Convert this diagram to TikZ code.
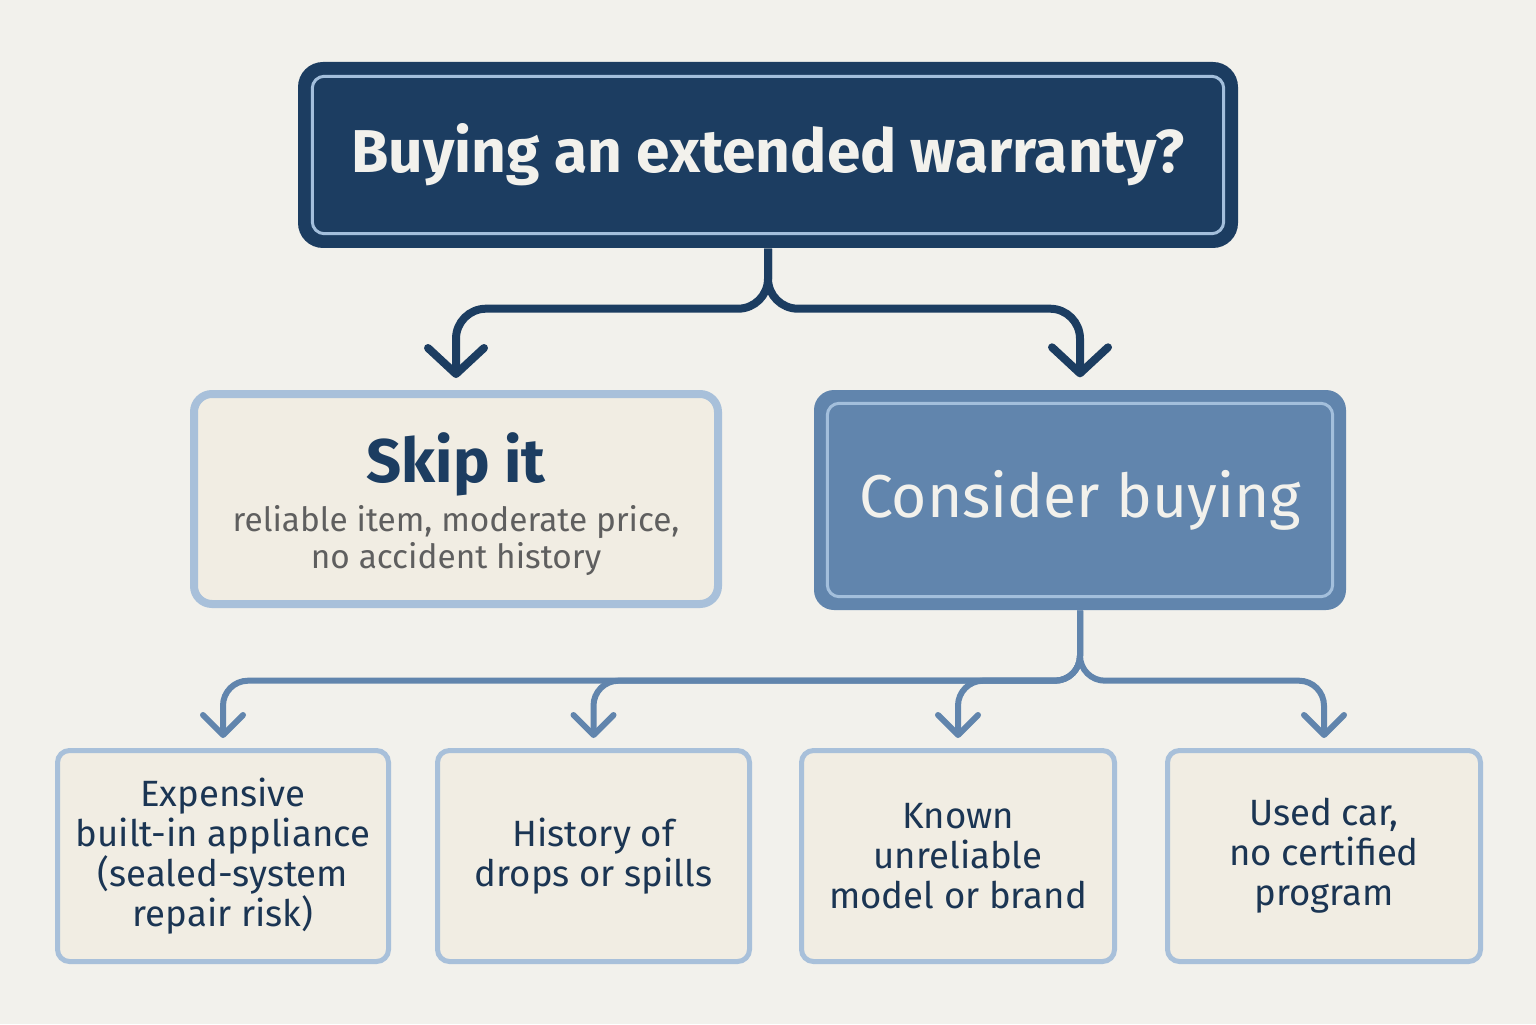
\documentclass[tikz,border=0pt]{standalone}
\usepackage{fontspec}
\setmainfont{Fira Sans}
\usetikzlibrary{positioning, arrows.meta, calc}
\usepackage{xcolor}
\definecolor{wnavy}{HTML}{1C3D61}
\definecolor{wsteel}{HTML}{6185AD}
\definecolor{wline}{HTML}{A3BFDC}
\definecolor{wedge}{HTML}{A8C0DA}
\definecolor{wcream}{HTML}{F1EDE3}
\definecolor{wpaper}{HTML}{F2F1EC}
\definecolor{wgray}{HTML}{5F5F5F}
\definecolor{wtext}{HTML}{1B3553}

\begin{document}
\begin{tikzpicture}[
      every node/.style={align=center, inner sep=0pt},
      topq/.style={fill=wnavy, rounded corners=0.25cm, minimum width=9.4cm,
                   minimum height=1.86cm, text=wpaper,
                   font=\fontsize{17.2}{21}\selectfont\bfseries},
      skipbox/.style={draw=wedge, line width=0.08cm, fill=wcream,
                      rounded corners=0.18cm, minimum width=5.24cm,
                      minimum height=2.1cm},
      buybox/.style={fill=wsteel, rounded corners=0.2cm, minimum width=5.32cm,
                     minimum height=2.2cm, text=wpaper,
                     font=\fontsize{17.2}{21}\selectfont},
      casebox/.style={draw=wedge, line width=0.05cm, fill=wcream,
                      rounded corners=0.12cm, minimum height=2.11cm,
                      text=wtext, font=\fontsize{10.4}{11.4}\selectfont},
      inset/.style={draw=wline, line width=0.03cm, rounded corners=0.12cm},
      link/.style={draw=wnavy, line width=0.08cm, rounded corners=0.3cm,
                   -{Straight Barb[length=2.6mm, width=5.6mm, round]},
                   shorten >=0.12cm},
      sublink/.style={draw=wsteel, line width=0.06cm, rounded corners=0.25cm,
                      -{Straight Barb[length=2mm, width=4mm, round]},
                      shorten >=0.1cm},
    ]
    \fill[wpaper] (0, 0) rectangle (15.36, 10.24);
    \useasboundingbox (0, 0) rectangle (15.36, 10.24);

    % question
    \node[topq] (quest) at (7.68, 8.69) {Buying an extended warranty?};
    \draw[inset] ([shift={(0.15cm,-0.15cm)}]quest.north west)
      rectangle ([shift={(-0.15cm,0.15cm)}]quest.south east);

    % two answers
    \node[skipbox] (skip) at (4.56, 5.25) {};
    \node[text=wnavy, font=\fontsize{17.5}{21}\selectfont\bfseries]
      (skiptitle) at (4.56, 5.6) {Skip it};
    \node[text=wgray, font=\fontsize{9.5}{10.5}\selectfont, below=0.08cm of skiptitle]
      (skipnote) {reliable item, moderate price,\\no accident history};

    \node[buybox] (buy) at (10.80, 5.24) {Consider buying};
    \draw[inset] ([shift={(0.14cm,-0.14cm)}]buy.north west)
      rectangle ([shift={(-0.14cm,0.14cm)}]buy.south east);

    % cases
    \node[casebox, minimum width=3.31cm] (appl) at (2.23, 1.68)
      {Expensive\\built-in appliance\\(sealed-system\\repair risk)};
    \node[casebox, minimum width=3.12cm] (drop) at (5.935, 1.68)
      {History of\\drops or spills};
    \node[casebox, minimum width=3.13cm] (brand) at (9.58, 1.68)
      {Known\\unreliable\\model or brand};
    \node[casebox, minimum width=3.13cm] (car) at (13.24, 1.68)
      {Used car,\\no certified\\program};

    \draw[link] (quest.south) -- ++(0, -0.6) -| (skip.north);
    \draw[link] (quest.south) -- ++(0, -0.6) -| (buy.north);

    \foreach \c in {appl, drop, brand, car}
      \draw[sublink] (buy.south) -- ++(0, -0.7) -| (\c.north);
  \end{tikzpicture}
\end{document}
